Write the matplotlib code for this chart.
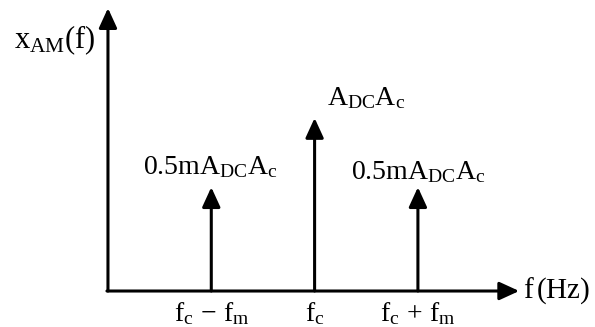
import matplotlib
matplotlib.use("Agg")
import matplotlib.pyplot as plt

plt.rcParams["mathtext.fontset"] = "custom"
plt.rcParams["mathtext.rm"] = "Liberation Serif"
plt.rcParams["mathtext.it"] = "Liberation Serif:italic"
plt.rcParams["font.family"] = ["Liberation Serif", "DejaVu Serif"]

# Spectrum of the AM signal: impulse positions (in units of fm) and heights
freqs = [1.0, 2.0, 3.0]
amps = [0.6, 1.0, 0.6]
tick_labels = [r"$\mathrm{f_c\,-\,f_m}$", r"$\mathrm{f_c}$", r"$\mathrm{f_c\,+\,f_m}$"]
amp_labels = [r"$\mathrm{0.5mA_{DC}A_c}$", r"$\mathrm{A_{DC}A_c}$", r"$\mathrm{0.5mA_{DC}A_c}$"]
ylabel = r"$\mathrm{x_{AM}(f)}$"
xlabel = r"$\mathrm{f\,(Hz)}$"

fig = plt.figure(figsize=(5.95, 3.27), dpi=100)
ax = fig.add_axes([0, 0, 1, 1])
ax.set_xlim(-1.045, 4.714)
ax.set_ylim(-0.208, 1.682)
ax.axis("off")

lw = 2.2
head = dict(arrowstyle="-|>,head_length=1.2,head_width=0.55", color="black",
            lw=lw, shrinkA=0, shrinkB=0)

# axes arrows
ax.annotate("", xy=(0, 1.635), xytext=(0, 0), arrowprops=head)
ax.annotate("", xy=(3.98, 0), xytext=(-0.01, 0), arrowprops=head)

fs = 20
# impulses
for f, a, tl in zip(freqs, amps, tick_labels):
    ax.annotate("", xy=(f, a), xytext=(f, 0), arrowprops=head)
    ax.text(f, -0.13, tl, ha="center", va="center", fontsize=fs)

ax.text(freqs[0] - 0.01, amps[0] + 0.117, amp_labels[0], ha="center", va="center", fontsize=fs)
ax.text(freqs[1] + 0.5, amps[1] + 0.116, amp_labels[1], ha="center", va="center", fontsize=fs)
ax.text(freqs[2] + 0.0, amps[2] + 0.088, amp_labels[2], ha="center", va="center", fontsize=fs)

ax.text(-0.12, 1.45, ylabel, ha="right", va="center", fontsize=fs + 2)
ax.text(4.02, 0.0, xlabel, ha="left", va="center", fontsize=fs + 1)

fig.savefig("out.png", dpi=100)
